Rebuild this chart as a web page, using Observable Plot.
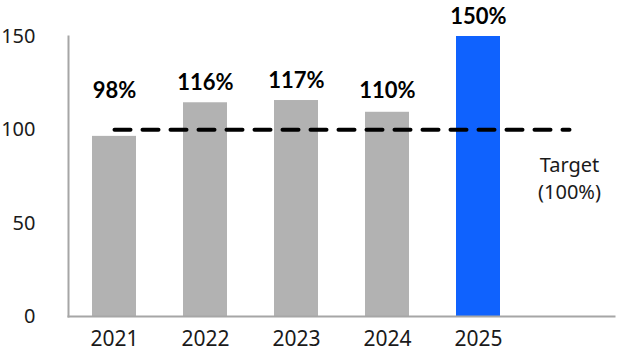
<!DOCTYPE html>
<html>
<head>
<meta charset="utf-8">
<script src="https://cdn.jsdelivr.net/npm/d3@7"></script>
<script src="https://cdn.jsdelivr.net/npm/@observablehq/plot@0.6"></script>
<style>
  html, body { margin: 0; padding: 0; background: #fff; }
  #chart { width: 644px; height: 356px; }
</style>
</head>
<body>
<div id="chart"></div>
<script>
const years = ["2021", "2022", "2023", "2024", "2025"];
const values = [96.5, 114.5, 115.7, 109.4, 150];
const labels = ["98%", "116%", "117%", "110%", "150%"];
const yTicks = [0, 50, 100, 150];
const target = 100;
const targetLabel = "Target\n(100%)";
const extraSlot = " ";

const data = years.map((y, i) => ({ year: y, value: values[i], label: labels[i] }));
const domain = [...years, extraSlot];
const labelFloor = 110; // keep labels clear of the target line

const chart = Plot.plot({
  width: 644,
  height: 356,
  marginLeft: 68,
  marginRight: 30,
  marginTop: 36,
  marginBottom: 40,
  style: { fontFamily: "'Noto Sans', sans-serif", fontSize: "20px", color: "#1a1a1a", background: "#fff" },
  x: { domain, paddingInner: 0.52, paddingOuter: 0.26, label: null },
  y: { domain: [0, 150], label: null },
  marks: [
    Plot.barY(data, { x: "year", y: "value", fill: d => d.year === "2025" ? "#0f62fe" : "#b2b2b2" }),
    Plot.frame({ anchor: "left", stroke: "#a6a6a6", strokeWidth: 2 }),
    Plot.frame({ anchor: "bottom", stroke: "#a6a6a6", strokeWidth: 2 }),
    Plot.lineY([{ x: years[0], y: target }, { x: extraSlot, y: target }], {
      x: "x", y: "y", stroke: "#000", strokeWidth: 4, strokeDasharray: "16,12"
    }),
    Plot.text(data, {
      x: "year", y: d => Math.max(d.value, labelFloor), text: "label", dy: -20,
      fontFamily: "Lato, sans-serif", fontWeight: "bold", fontSize: 22, fill: "#000"
    }),
    Plot.text([{ x: extraSlot, y: target, t: targetLabel }], {
      x: "x", y: "y", text: "t", dy: 47, fontSize: 20, lineHeight: 1.35, fill: "#1a1a1a"
    }),
    Plot.axisY({ ticks: yTicks, tickSize: 0, tickPadding: 33, label: null, fontSize: 20 }),
    Plot.axisX({ tickSize: 0, tickPadding: 15, label: null, fontSize: 21 })
  ]
});
document.getElementById("chart").appendChild(chart);
</script>
</body>
</html>
